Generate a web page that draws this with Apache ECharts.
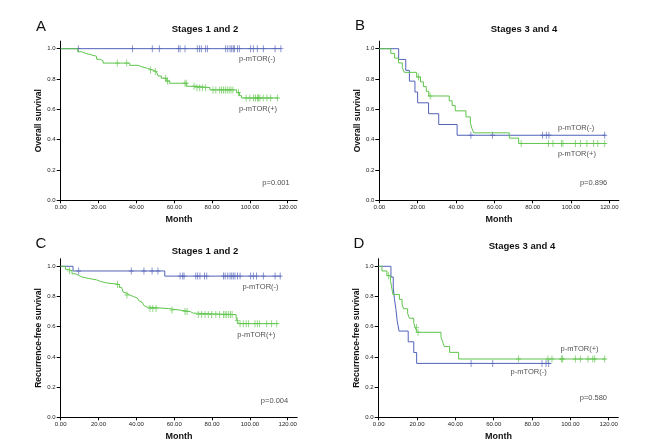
<!DOCTYPE html>
<html>
<head>
<meta charset="utf-8">
<script src="https://cdn.jsdelivr.net/npm/echarts@6/dist/echarts.min.js"></script>
<style>
  html, body { margin: 0; padding: 0; background: #fff; }
  #chart { width: 652px; height: 448px; }
</style>
</head>
<body>
<div id="chart"></div>
<script>
// tick labels
var xTicks = [0, 20, 40, 60, 80, 100, 120];
var yTicks = [0, 0.2, 0.4, 0.6, 0.8, 1.0];

// A: overall survival, stages 1 and 2  [month, survival]
var osEarlyNeg = [[0, 1], [116.5, 1]];
var osEarlyNegCens = [9.3, 37.9, 48.4, 52.1, 62.2, 63.1, 65.7, 72.2, 73.3, 74.3, 76.6, 77.5, 87.2, 88.3, 89.5, 90.4, 91.2, 91.8, 93.4, 94.4, 100.4, 101.8, 103.9, 107.1, 113.3, 116.4];
var osEarlyPos = [[0, 1], [9, 0.98], [11, 0.97], [13, 0.96], [16, 0.95], [19, 0.93], [21, 0.92], [22.4, 0.905], [36.5, 0.89], [40.9, 0.88], [43, 0.87], [46, 0.86], [48.5, 0.85], [50.5, 0.84], [51.5, 0.82], [53.2, 0.805], [55.8, 0.787], [57.6, 0.772], [66.6, 0.752], [71.9, 0.743], [78.9, 0.728], [93, 0.71], [94.5, 0.69], [95.6, 0.675], [115, 0.675]];
var osEarlyPosCens = [29.9, 34.9, 47.5, 50, 55.5, 56.5, 65.7, 66.3, 70.5, 72, 73.5, 75, 76.5, 80.5, 82, 84, 85, 86, 87, 88, 89, 90, 91, 94, 98, 100, 102, 103, 104, 104.6, 105.3, 107, 109, 111, 114.5];

// B: overall survival, stages 3 and 4
var osLateNeg = [[0, 1], [10.1, 0.929], [13.8, 0.857], [15.7, 0.786], [18.6, 0.714], [20.0, 0.643], [25.7, 0.571], [31, 0.5], [40.6, 0.429], [118, 0.429]];
var osLateNegCens = [47.8, 59.1, 85.2, 87.1, 88.5, 117.6];
var osLatePos = [[0, 1], [6, 0.969], [8, 0.938], [10, 0.906], [12, 0.875], [13, 0.844], [19.5, 0.813], [21.5, 0.781], [23, 0.75], [24.5, 0.719], [25.8, 0.688], [36.5, 0.656], [38, 0.625], [39.6, 0.59], [45.2, 0.55], [47.5, 0.51], [48.3, 0.475], [49.3, 0.445], [67.8, 0.41], [72.7, 0.375], [118, 0.375]];
var osLatePosCens = [20.5, 26.5, 74, 88.3, 90.6, 95, 95.8, 102.3, 104.9, 108.3, 111.8, 114, 117.6];

// C: recurrence-free survival, stages 1 and 2
var rfsEarlyNeg = [[0, 1], [6.5, 0.969], [55, 0.935], [116.5, 0.935]];
var rfsEarlyNegCens = [9.5, 37.3, 44, 48.3, 51.4, 63.1, 64.5, 65.2, 71.4, 72.4, 73.6, 76, 77.2, 86, 86.9, 88.3, 89.5, 90.4, 91.2, 92.1, 93.4, 94.8, 100.4, 101.8, 103.5, 107.1, 113.3, 116];
var rfsEarlyPos = [[0, 1], [2.5, 0.98], [4, 0.97], [6, 0.95], [8, 0.94], [9.5, 0.93], [11, 0.92], [14.6, 0.91], [19, 0.9], [21, 0.89], [24.3, 0.88], [31, 0.86], [32.2, 0.85], [33, 0.83], [34, 0.82], [35, 0.81], [36.5, 0.8], [38.4, 0.79], [40.5, 0.78], [41.5, 0.77], [42.3, 0.76], [43.2, 0.75], [44, 0.74], [44.8, 0.73], [45.5, 0.72], [57, 0.71], [63, 0.7], [68.5, 0.69], [70, 0.68], [92.7, 0.66], [93.3, 0.64], [94, 0.62], [115, 0.62]];
var rfsEarlyPosCens = [4.6, 30, 35, 47.2, 48.7, 50.4, 58.8, 65.7, 66.8, 72.7, 74.5, 76.3, 78, 79.8, 82, 84, 86, 86.9, 87.8, 88.8, 89.7, 90.6, 93.3, 94.8, 96.5, 98, 99.2, 102.7, 103.9, 105, 108.9, 111.5, 114.2];

// D: recurrence-free survival, stages 3 and 4
var rfsLateNeg = [[0, 1], [6.4, 0.929], [7.6, 0.857], [8.2, 0.786], [9.0, 0.714], [9.6, 0.643], [10.6, 0.571], [15.4, 0.5], [18.3, 0.429], [19.8, 0.357], [90, 0.357]];
var rfsLateNegCens = [48.2, 59.5, 85.2, 87.3, 88.7];
var rfsLatePos = [[0, 1], [1.7, 0.969], [4.3, 0.938], [6.1, 0.906], [6.6, 0.875], [7, 0.844], [7.4, 0.813], [10.8, 0.781], [12.2, 0.75], [13, 0.719], [15.1, 0.688], [16, 0.656], [18.3, 0.625], [19.1, 0.594], [20, 0.563], [32.5, 0.531], [33.4, 0.5], [34.2, 0.469], [37, 0.43], [41.7, 0.386], [118.3, 0.386]];
var rfsLatePosCens = [5.2, 19.7, 20.5, 73, 88.3, 90.4, 95.3, 96, 102.6, 105.2, 109.2, 111.7, 112.7, 117.9];

var BLUE = '#5262b8';
var GREEN = '#5fc44c';
var FONT = 'Liberation Sans, Arial, sans-serif';
var PLUS = 'path://M2.5,0H3.5V3.5H6V4.5H3.5V8H2.5V4.5H0V3.5H2.5Z';

function survAt(curve, t) {
    var s = 1;
    for (var i = 0; i < curve.length; i++) {
        if (curve[i][0] <= t) s = curve[i][1];
        else break;
    }
    return s;
}

var panels = [
    { letter: 'A', title: 'Stages 1 and 2', yName: 'Overall survival',
      grid: { left: 60.7, top: 41.1, width: 236.5, height: 159.2 },
      neg: osEarlyNeg, negC: osEarlyNegCens, pos: osEarlyPos, posC: osEarlyPosCens,
      labels: [[103.8, 0.93, 'p-mTOR(-)'], [104.3, 0.6, 'p-mTOR(+)'], [113.8, 0.116, 'p=0.001']],
      letterPos: [41, 27], titlePos: [205, 29] },
    { letter: 'B', title: 'Stages 3 and 4', yName: 'Overall survival',
      grid: { left: 379.3, top: 41.1, width: 239.6, height: 159.2 },
      neg: osLateNeg, negC: osLateNegCens, pos: osLatePos, posC: osLatePosCens,
      labels: [[102.7, 0.48, 'p-mTOR(-)'], [103.1, 0.305, 'p-mTOR(+)'], [111.8, 0.116, 'p=0.896']],
      letterPos: [360, 26], titlePos: [524, 29] },
    { letter: 'C', title: 'Stages 1 and 2', yName: 'Recurrence-free survival',
      grid: { left: 60.7, top: 258.75, width: 236.5, height: 158.55 },
      neg: rfsEarlyNeg, negC: rfsEarlyNegCens, pos: rfsEarlyPos, posC: rfsEarlyPosCens,
      labels: [[105.6, 0.865, 'p-mTOR(-)'], [103.4, 0.545, 'p-mTOR(+)'], [113, 0.106, 'p=0.004']],
      letterPos: [41, 244], titlePos: [205, 251.7] },
    { letter: 'D', title: 'Stages 3 and 4', yName: 'Recurrence-free survival',
      grid: { left: 378.7, top: 258.75, width: 239.6, height: 158.55 },
      neg: rfsLateNeg, negC: rfsLateNegCens, pos: rfsLatePos, posC: rfsLatePosCens,
      labels: [[104.8, 0.454, 'p-mTOR(+)'], [78.2, 0.3, 'p-mTOR(-)'], [112, 0.128, 'p=0.580']],
      letterPos: [359, 244], titlePos: [522, 246.7] }
];

var grids = [], xAxes = [], yAxes = [], series = [], graphics = [];

panels.forEach(function (pn, i) {
    grids.push(pn.grid);
    xAxes.push({
        type: 'value', gridIndex: i, min: 0, max: 125,
        name: 'Month', nameLocation: 'middle', nameGap: 15,
        nameTextStyle: { fontFamily: FONT, fontWeight: 'bold', fontSize: 9, color: '#111' },
        splitLine: { show: false },
        axisLine: { lineStyle: { color: '#000', width: 1 } },
        axisTick: { length: 3, lineStyle: { color: '#000' }, customValues: xTicks },
        axisLabel: { customValues: xTicks, margin: 4, fontFamily: FONT, fontSize: 6, color: '#222',
                     formatter: function (v) { return v.toFixed(2); } }
    });
    yAxes.push({
        type: 'value', gridIndex: i, min: 0, max: 1.05,
        name: pn.yName, nameLocation: 'middle', nameGap: 14,
        nameTextStyle: { fontFamily: FONT, fontWeight: 'bold', fontSize: 8.5, color: '#111' },
        splitLine: { show: false },
        axisLine: { show: true, lineStyle: { color: '#000', width: 1 } },
        axisTick: { show: true, length: 4, lineStyle: { color: '#000' }, customValues: yTicks },
        axisLabel: { customValues: yTicks, margin: 5, fontFamily: FONT, fontSize: 6, color: '#222',
                     formatter: function (v) { return v.toFixed(1); } }
    });
    [[pn.neg, pn.negC, BLUE], [pn.pos, pn.posC, GREEN]].forEach(function (g) {
        series.push({
            type: 'line', xAxisIndex: i, yAxisIndex: i, data: g[0], step: 'end',
            showSymbol: false, symbol: 'none', lineStyle: { color: g[2], width: 1 }, silent: true
        });
        series.push({
            type: 'scatter', xAxisIndex: i, yAxisIndex: i,
            data: g[1].map(function (t) { return [t, survAt(g[0], t)]; }),
            symbol: PLUS, symbolSize: [5, 7], itemStyle: { color: g[2] }, silent: true
        });
    });
    series.push({
        type: 'scatter', xAxisIndex: i, yAxisIndex: i, symbolSize: 1,
        itemStyle: { color: 'rgba(0,0,0,0)' }, silent: true,
        data: pn.labels.map(function (l) { return { value: [l[0], l[1]], name: l[2] }; }),
        label: { show: true, position: 'inside', formatter: '{b}', fontFamily: FONT, fontSize: 7.5, color: '#222' }
    });
    graphics.push({
        type: 'text', x: pn.letterPos[0], y: pn.letterPos[1],
        style: { text: pn.letter, font: '15px ' + FONT, fill: '#111', textAlign: 'center', textVerticalAlign: 'middle' }
    });
    graphics.push({
        type: 'text', x: pn.titlePos[0], y: pn.titlePos[1],
        style: { text: pn.title, font: 'bold 9.5px ' + FONT, fill: '#111', textAlign: 'center', textVerticalAlign: 'middle' }
    });
});

var chart = echarts.init(document.getElementById('chart'));
chart.setOption({
    backgroundColor: '#fff',
    animation: false,
    grid: grids,
    xAxis: xAxes,
    yAxis: yAxes,
    series: series,
    graphic: graphics
});
</script>
</body>
</html>
